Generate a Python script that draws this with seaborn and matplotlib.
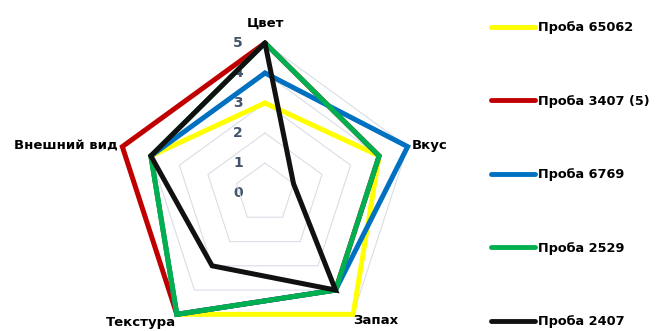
import numpy as np
import pandas as pd
import matplotlib
matplotlib.use("Agg")
import matplotlib.pyplot as plt
import matplotlib.transforms as mtransforms
import seaborn as sns

# Data
categories = ["Цвет", "Вкус", "Запах", "Текстура", "Внешний вид"]
samples = ["Проба 65062", "Проба 3407 (5)", "Проба 6769", "Проба 2529", "Проба 2407"]
yellow_65062 = [3, 4, 5, 5, 4]
red_3407 = [5, 4, 4, 5, 5]
blue_6769 = [4, 5, 4, 5, 4]
green_2529 = [5, 4, 4, 5, 4]
black_2407 = [5, 1, 4, 3, 4]
levels = [0, 1, 2, 3, 4, 5]

colors = ["#FFFF00", "#C00000", "#0070C0", "#00B050", "#111111"]
series = [yellow_65062, red_3407, blue_6769, green_2529, black_2407]

n = len(categories)
angles = np.pi / 2 - np.arange(n) * 2 * np.pi / n

rows = []
for name, vals in zip(samples, series):
    for i in range(n + 1):
        k = i % n
        rows.append({"sample": name, "angle": np.pi / 2 - i * 2 * np.pi / n,
                     "value": vals[k], "order": i})
df = pd.DataFrame(rows)

sns.set_style("white")
plt.rcParams["font.family"] = ["DejaVu Sans"]

fig = plt.figure(figsize=(6.59, 3.31), dpi=100)
ax = fig.add_axes([115 / 659, -12 / 331, 300 / 659, 300 / 331], projection="polar")
ax.set_ylim(0, 5)
ax.grid(False)
ax.spines["polar"].set_visible(False)
ax.set_xticks([])
ax.set_yticks([])
ax.patch.set_alpha(0)

# pentagon grid
closed = np.append(angles, angles[0])
for lv in levels[1:]:
    ax.plot(closed, [lv] * (n + 1), color="#D9DEE6", lw=0.8, zorder=1, clip_on=False)

sns.lineplot(data=df, x="angle", y="value", hue="sample", hue_order=samples,
             palette=colors, sort=False, estimator=None, units="sample",
             linewidth=3.6, ax=ax, legend=True)
for ln in ax.get_lines():
    ln.set_clip_on(False)
    ln.set_solid_joinstyle("miter")
ax.set_xlabel("")
ax.set_ylabel("")

# radial level labels
off = mtransforms.offset_copy(ax.transData, fig=fig, x=-27, y=0, units="dots")
for lv in levels:
    ax.text(np.pi / 2, lv, str(lv), transform=off, ha="center", va="center",
            fontsize=10, fontweight="bold", color="#44546A", zorder=0)

# category labels
label_pos = [
    (5.45, "center", "bottom"),
    (5.15, "left", "center"),
    (5.0, "left", "top"),
    (5.05, "right", "top"),
    (5.15, "right", "center"),
]
for ang, cat, (r, ha, va) in zip(angles, categories, label_pos):
    ax.text(ang, r, cat, ha=ha, va=va, fontsize=9.5, fontweight="bold", color="black")

ax.legend_.remove()
handles, labels = ax.get_legend_handles_labels()
leg = fig.legend(handles, labels, loc="upper left", bbox_to_anchor=(479 / 659, 0.971),
                 frameon=False, handlelength=3.4, handletextpad=0.25,
                 labelspacing=4.68, labelcolor="black",
                 prop={"weight": "bold", "size": 9.3})
for h in leg.legend_handles:
    h.set_linewidth(3.5)

fig.savefig("out.png", dpi=100)
